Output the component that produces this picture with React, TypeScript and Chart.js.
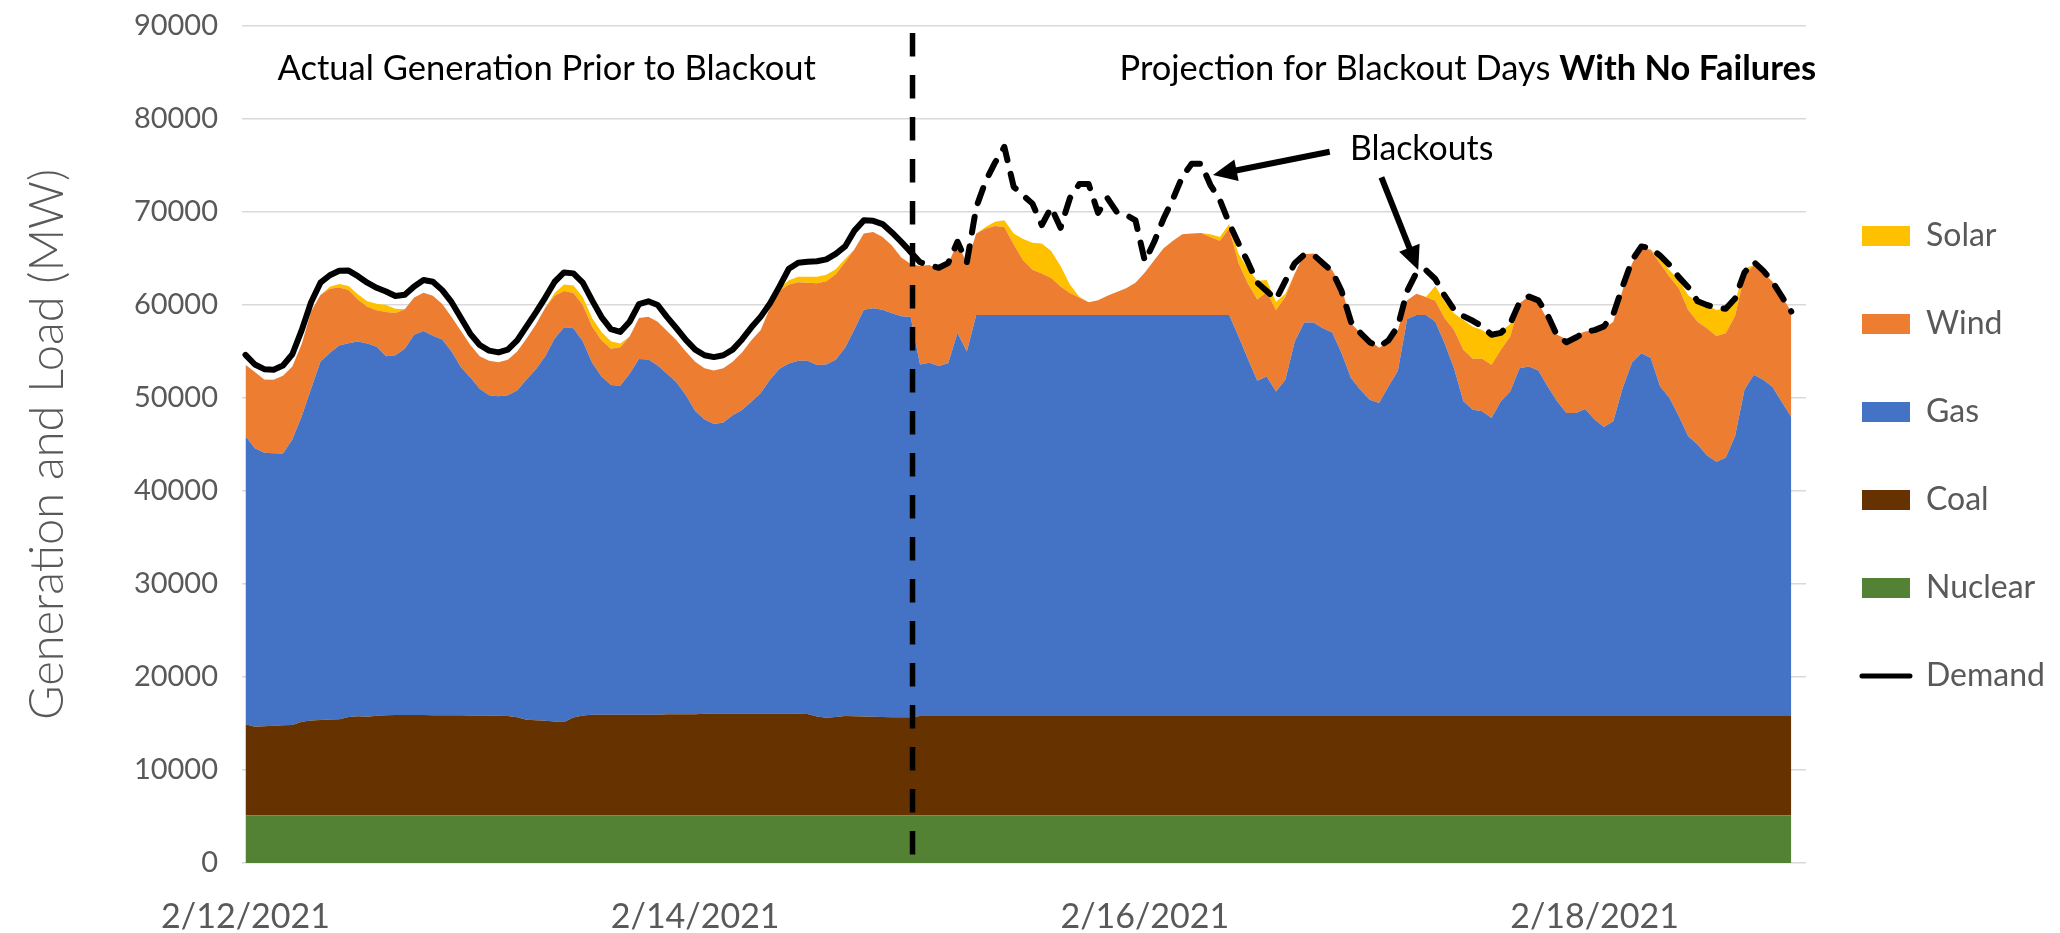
import React, { useEffect, useRef } from 'react';
import { Chart, registerables } from 'chart.js';

Chart.register(...registerables);

// ---------------- data (hourly, hour 0 = 2/12/2021 00:00) ----------------
const dateTicks = ['2/12/2021', '2/14/2021', '2/16/2021', '2/18/2021'];
const dateTickHours = [0, 48, 96, 144];

const nuclear = [
  5100, 5100, 5100, 5100, 5100, 5100, 5100, 5100, 5100, 5100,
  5100, 5100, 5100, 5100, 5100, 5100, 5100, 5100, 5100, 5100,
  5100, 5100, 5100, 5100, 5100, 5100, 5100, 5100, 5100, 5100,
  5100, 5100, 5100, 5100, 5100, 5100, 5100, 5100, 5100, 5100,
  5100, 5100, 5100, 5100, 5100, 5100, 5100, 5100, 5100, 5100,
  5100, 5100, 5100, 5100, 5100, 5100, 5100, 5100, 5100, 5100,
  5100, 5100, 5100, 5100, 5100, 5100, 5100, 5100, 5100, 5100,
  5100, 5100, 5100, 5100, 5100, 5100, 5100, 5100, 5100, 5100,
  5100, 5100, 5100, 5100, 5100, 5100, 5100, 5100, 5100, 5100,
  5100, 5100, 5100, 5100, 5100, 5100, 5100, 5100, 5100, 5100,
  5100, 5100, 5100, 5100, 5100, 5100, 5100, 5100, 5100, 5100,
  5100, 5100, 5100, 5100, 5100, 5100, 5100, 5100, 5100, 5100,
  5100, 5100, 5100, 5100, 5100, 5100, 5100, 5100, 5100, 5100,
  5100, 5100, 5100, 5100, 5100, 5100, 5100, 5100, 5100, 5100,
  5100, 5100, 5100, 5100, 5100, 5100, 5100, 5100, 5100, 5100,
  5100, 5100, 5100, 5100, 5100, 5100, 5100, 5100, 5100, 5100,
  5100, 5100, 5100, 5100, 5100, 5100,
];

const coal = [
  9810, 9560, 9600, 9650, 9700, 9740, 10100, 10230, 10280, 10320,
  10350, 10600, 10680, 10630, 10720, 10780, 10810, 10810, 10810, 10810,
  10800, 10800, 10790, 10780, 10770, 10760, 10750, 10730, 10700, 10580,
  10300, 10250, 10200, 10120, 10060, 10550, 10750, 10850, 10850, 10850,
  10850, 10850, 10850, 10850, 10850, 10900, 10900, 10900, 10900, 10950,
  10950, 10950, 10950, 10950, 10950, 10950, 10950, 10950, 10950, 10940,
  10920, 10650, 10530, 10600, 10700, 10680, 10650, 10630, 10600, 10580,
  10560, 10560, 10700, 10700, 10700, 10700, 10700, 10700, 10700, 10700,
  10700, 10700, 10700, 10700, 10700, 10700, 10700, 10700, 10700, 10700,
  10700, 10700, 10700, 10700, 10700, 10700, 10700, 10700, 10700, 10700,
  10700, 10700, 10700, 10700, 10700, 10700, 10700, 10700, 10700, 10700,
  10700, 10700, 10700, 10700, 10700, 10700, 10700, 10700, 10700, 10700,
  10700, 10700, 10700, 10700, 10700, 10700, 10700, 10700, 10700, 10700,
  10700, 10700, 10700, 10700, 10700, 10700, 10700, 10700, 10700, 10700,
  10700, 10700, 10700, 10700, 10700, 10700, 10700, 10700, 10700, 10700,
  10700, 10700, 10700, 10700, 10700, 10700, 10700, 10700, 10700, 10700,
  10700, 10700, 10700, 10700, 10700, 10700,
];

const gas = [
  30980, 29940, 29410, 29300, 29240, 30700, 32840, 35670, 38520, 39430,
  40190, 40200, 40290, 40120, 39680, 38620, 38690, 39390, 40890, 41290,
  40800, 40400, 39110, 37420, 36330, 35140, 34450, 34370, 34500, 35120,
  36600, 37750, 39200, 41180, 42440, 41850, 40250, 37850, 36350, 35450,
  35370, 36650, 38250, 38200, 37550, 36600, 35700, 34300, 32600, 31650,
  31150, 31320, 32100, 32650, 33550, 34490, 35950, 37100, 37650, 37960,
  37980, 37800, 37970, 38400, 39600, 41620, 43750, 43920, 43800, 43420,
  43140, 43040, 37800, 38000, 37650, 37950, 41200, 39200, 43130, 43130,
  43130, 43130, 43130, 43130, 43130, 43130, 43130, 43130, 43130, 43130,
  43130, 43130, 43130, 43130, 43130, 43130, 43130, 43130, 43130, 43130,
  43130, 43130, 43130, 43130, 43130, 43130, 40810, 38400, 36060, 36520,
  34910, 36160, 40270, 42310, 42310, 41700, 41240, 39020, 36340, 35090,
  34020, 33660, 35450, 37100, 42700, 43130, 43130, 42410, 40090, 37410,
  33840, 32950, 32770, 32060, 33840, 34910, 37410, 37590, 37160, 35450,
  33840, 32590, 32590, 33020, 31880, 31090, 31700, 35270, 38020, 39020,
  38490, 35450, 34200, 32240, 30090, 29200, 28020, 27340, 27770, 30090,
  35090, 36700, 36160, 35380, 33740, 32160,
];

const wind = [
  7680, 8200, 7890, 7910, 8360, 7850, 7760, 8300, 7170, 6900,
  6250, 5700, 4530, 3950, 3940, 4750, 4550, 4250, 4000, 4130,
  4300, 3800, 3700, 3900, 3500, 3500, 3700, 3650, 3800, 4200,
  4400, 4800, 5200, 4600, 3900, 3800, 3900, 3900, 3900, 3900,
  4130, 4000, 4400, 4600, 4700, 4600, 4500, 4700, 5300, 5500,
  5760, 5830, 5750, 6200, 6600, 6780, 7700, 8350, 8500, 8450,
  8400, 8800, 8950, 9200, 9200, 8600, 8200, 8210, 7800, 7300,
  6300, 5700, 10600, 10500, 10350, 10650, 9700, 9500, 8770, 9270,
  9570, 9470, 7570, 5870, 4870, 4470, 3970, 3070, 2370, 1870,
  1370, 1570, 2070, 2470, 2870, 3470, 4570, 5870, 7170, 7970,
  8670, 8770, 8820, 8370, 7970, 9270, 7890, 8100, 8740, 9080,
  8750, 8940, 7330, 7350, 7430, 7400, 6710, 7140, 5900, 6110,
  6380, 5940, 4710, 4400, 2000, 2270, 1920, 2250, 2680, 4110,
  5540, 5460, 5640, 5710, 5540, 5900, 6970, 7570, 7220, 7140,
  7150, 7930, 8400, 8320, 9620, 10560, 10710, 10540, 10640, 11380,
  11600, 13210, 13040, 13750, 13570, 13210, 13680, 13540, 13390, 12930,
  12320, 11790, 11500, 11320, 11350, 11330,
];

const solar = [
  0, 0, 0, 0, 0, 0, 0, 0, 0, 200,
  360, 450, 550, 600, 700, 750, 450, 0, 0, 0,
  0, 0, 0, 0, 0, 0, 0, 0, 0, 0,
  0, 0, 0, 300, 700, 800, 850, 900, 900, 800,
  400, 0, 0, 0, 0, 0, 0, 0, 0, 0,
  0, 0, 0, 0, 0, 0, 100, 300, 450, 600,
  650, 700, 700, 550, 350, 0, 0, 0, 0, 0,
  0, 0, 0, 0, 0, 0, 0, 0, 0, 200,
  450, 700, 1200, 2300, 2900, 3200, 2900, 2200, 900, 100,
  0, 0, 0, 0, 0, 0, 0, 0, 0, 0,
  0, 0, 0, 300, 400, 500, 1000, 1600, 2000, 1300,
  900, 300, 0, 0, 0, 0, 0, 0, 0, 0,
  0, 0, 0, 0, 0, 0, 0, 1570, 1790, 1790,
  3210, 3460, 3100, 3040, 1960, 1360, 0, 0, 0, 0,
  0, 0, 0, 0, 0, 0, 0, 0, 0, 0,
  100, 540, 700, 890, 1600, 2100, 2500, 2790, 2680, 1540,
  700, 0, 0, 0, 0, 0,
];

const demand = [
  54640, 53600, 53100, 53040, 53500, 54700, 57300, 60300, 62400, 63200,
  63680, 63700, 63100, 62400, 61850, 61450, 60960, 61100, 62000, 62680,
  62500, 61600, 60300, 58600, 56900, 55700, 55100, 54900, 55200, 56200,
  57700, 59200, 60800, 62500, 63500, 63400, 62400, 60500, 58700, 57400,
  57100, 58200, 60100, 60400, 60000, 58700, 57500, 56250, 55200, 54600,
  54400, 54600, 55200, 56300, 57600, 58750, 60200, 62000, 63900, 64550,
  64640, 64700, 64900, 65500, 66300, 68000, 69100, 69050, 68700, 67800,
  66790, 65710, 64600, 64300, 64000, 64500, 66800, 64600, 70500, 73300,
  75300, 77000, 72700, 71800, 70900, 68600, 70500, 68300, 71500, 73000,
  73000, 69900, 71500, 70000, 69700, 69100, 64700, 66800, 69300, 71400,
  73800, 75200, 75200, 72900, 71300, 68800, 66600, 64600, 62400, 61500,
  60600, 62600, 64500, 65400, 65400, 64500, 63600, 61500, 58200, 57000,
  56000, 55500, 56200, 57700, 61500, 63500, 63750, 62800, 61000, 59500,
  58800, 58300, 57700, 56800, 57000, 58000, 60300, 60900, 60500, 58900,
  56700, 56000, 56500, 57100, 57300, 57700, 59000, 62000, 64800, 66300,
  66100, 65300, 64300, 63000, 61900, 60400, 60000, 59700, 59600, 60700,
  63500, 64640, 63700, 62500, 60900, 59300,
];

// hour offset of each sample (x category)
const hours = demand.map((_, i) => i);

// start of the projection period (hours) and extent of the divider line (MW)
const dividerHour = 71.2;
const dividerRange = [800, 89250];

const legendOrder = ['Solar', 'Wind', 'Gas', 'Coal', 'Nuclear', 'Demand'];

const colors: Record<string, string> = {
  Nuclear: '#548235',
  Coal: '#663300',
  Gas: '#4472C4',
  Wind: '#ED7D31',
  Solar: '#FFC000',
  Demand: '#000000',
};

const FONT = 'Lato, "Open Sans", "DejaVu Sans", sans-serif';

const toXY = (arr: number[]) => arr.map((v, i) => ({ x: hours[i], y: v }));

// ---------------- annotation plugin ----------------
const annotations = {
  id: 'annotations',
  afterDatasetsDraw(chart: any) {
    const { ctx } = chart;
    const xs = chart.scales.x;
    const ys = chart.scales.y;
    const px = (h: number) => xs.getPixelForValue(h);
    const py = (v: number) => ys.getPixelForValue(v);
    ctx.save();

    const fitText = (
      parts: { text: string; weight: number }[],
      h0: number,
      h1: number,
      v: number,
    ) => {
      const base = 36;
      let total = 0;
      parts.forEach((p) => {
        ctx.font = `${p.weight} ${base}px ${FONT}`;
        total += ctx.measureText(p.text).width;
      });
      const size = (base * (px(h1) - px(h0))) / total;
      let cx = px(h0);
      const cy = py(v);
      ctx.fillStyle = '#000';
      ctx.textBaseline = 'alphabetic';
      ctx.textAlign = 'left';
      parts.forEach((p) => {
        ctx.font = `${p.weight} ${size}px ${FONT}`;
        ctx.fillText(p.text, cx, cy);
        cx += ctx.measureText(p.text).width;
      });
    };

    fitText([{ text: 'Actual Generation Prior to Blackout', weight: 400 }], 3.42, 60.92, 84194);
    fitText(
      [
        { text: 'Projection for Blackout Days ', weight: 400 },
        { text: 'With No Failures', weight: 700 },
      ],
      93.3,
      167.66,
      84194,
    );
    fitText([{ text: 'Blackouts', weight: 400 }], 117.89, 133.2, 75591);

    const arrow = (h0: number, v0: number, h1: number, v1: number) => {
      const x0 = px(h0), y0 = py(v0), x1 = px(h1), y1 = py(v1);
      const dx = x1 - x0, dy = y1 - y0;
      const len = Math.hypot(dx, dy);
      const ux = dx / len, uy = dy / len;
      const headLen = 24, headHalf = 11;
      const bx = x1 - ux * headLen, by = y1 - uy * headLen;
      ctx.strokeStyle = '#000';
      ctx.lineWidth = 6;
      ctx.lineCap = 'butt';
      ctx.beginPath();
      ctx.moveTo(x0, y0);
      ctx.lineTo(bx + ux * 2, by + uy * 2);
      ctx.stroke();
      ctx.fillStyle = '#000';
      ctx.beginPath();
      ctx.moveTo(x1, y1);
      ctx.lineTo(bx - uy * headHalf, by + ux * headHalf);
      ctx.lineTo(bx + uy * headHalf, by - ux * headHalf);
      ctx.closePath();
      ctx.fill();
    };
    arrow(115.73, 76484, 103.27, 73978);
    arrow(121.25, 73731, 125.18, 63763);

    ctx.restore();
  },
};

export default function App() {
  const ref = useRef<HTMLCanvasElement | null>(null);

  useEffect(() => {
    if (!ref.current) return;
    Chart.defaults.font.family = FONT;

    const area = (label: string, data: number[], fill: any) => ({
      label,
      data: toXY(data),
      backgroundColor: colors[label],
      borderColor: colors[label],
      borderWidth: 0,
      pointRadius: 0,
      tension: 0,
      fill,
      stack: 'gen',
    });

    const datasets: any[] = [
      area('Nuclear', nuclear, 'origin'),
      area('Coal', coal, '-1'),
      area('Gas', gas, '-1'),
      area('Wind', wind, '-1'),
      area('Solar', solar, '-1'),
      {
        label: 'Demand',
        data: toXY(demand),
        borderColor: '#000',
        backgroundColor: '#000',
        borderWidth: 6,
        pointRadius: 0,
        tension: 0,
        fill: false,
        stack: 'demand',
        order: -1,
        borderCapStyle: 'round',
        borderJoinStyle: 'round',
        segment: {
          borderDash: (c: any) => (c.p0.parsed.x >= 71 ? [16, 14] : undefined),
        },
      },
      {
        label: 'divider',
        data: [
          { x: dividerHour, y: dividerRange[1] },
          { x: dividerHour, y: dividerRange[0] },
        ],
        borderColor: '#000',
        borderWidth: 5.5,
        borderDash: [23.5, 18.5],
        pointRadius: 0,
        fill: false,
        stack: 'divider',
        order: -2,
      },
    ];

    const chart = new Chart(ref.current, {
      type: 'line',
      data: { datasets },
      plugins: [annotations],
      options: {
        animation: false,
        responsive: false,
        maintainAspectRatio: false,
        devicePixelRatio: 1,
        layout: { padding: { left: 0, top: 26, right: 5, bottom: 0 } },
        plugins: {
          tooltip: { enabled: false },
          legend: {
            position: 'right',
            align: 'start',
            title: {
              display: true,
              text: ' ',
              font: { size: 10, family: FONT },
              padding: { top: 126, bottom: 0 },
            },
            labels: {
              usePointStyle: true,
              pointStyleWidth: 48,
              boxHeight: 20,
              padding: 56,
              color: '#595959',
              font: { size: 32, family: FONT },
              generateLabels: (ch: any) =>
                legendOrder.map((name) => {
                  const idx = ch.data.datasets.findIndex((d: any) => d.label === name);
                  const isLine = name === 'Demand';
                  return {
                    text: name,
                    fillStyle: colors[name],
                    strokeStyle: colors[name],
                    lineWidth: isLine ? 5 : 0,
                    lineCap: 'round',
                    pointStyle: isLine ? 'line' : 'rect',
                    fontColor: '#595959',
                    hidden: false,
                    datasetIndex: idx,
                  };
                }),
            },
          },
        },
        scales: {
          x: {
            type: 'linear',
            min: -0.374,
            max: 166.57,
            grid: { display: false },
            border: { display: false },
            afterFit: (s: any) => {
              s.height = 70;
              s.paddingLeft = 0;
              s.paddingRight = 0;
            },
            afterBuildTicks: (s: any) => {
              s.ticks = dateTickHours.map((v) => ({ value: v }));
            },
            ticks: {
              autoSkip: false,
              maxRotation: 0,
              minRotation: 0,
              padding: 26,
              color: '#595959',
              font: { size: 34, family: FONT },
              callback: (_v: any, i: number) => dateTicks[i],
            },
          },
          y: {
            stacked: true,
            min: 0,
            max: 90000,
            grid: { color: '#d9d9d9', lineWidth: 1.5, drawTicks: false },
            border: { display: false },
            afterFit: (s: any) => {
              s.width = 242;
              s.paddingTop = 0;
              s.paddingBottom = 0;
            },
            ticks: {
              stepSize: 10000,
              padding: 24,
              color: '#595959',
              font: { size: 29, family: FONT },
              callback: (v: any) => String(v),
            },
            title: {
              display: true,
              text: 'Generation and Load (MW)',
              color: '#595959',
              font: { size: 47, family: FONT, weight: '300' as any },
              padding: { top: 20, bottom: 0 },
            },
          },
        },
      } as any,
    });

    return () => chart.destroy();
  }, []);

  return (
    <div
      style={{
        position: 'absolute',
        left: 0,
        top: 0,
        width: 2060,
        height: 933,
        background: '#ffffff',
      }}
    >
      <canvas
        ref={ref}
        width={2060}
        height={933}
        style={{ display: 'block', width: 2060, height: 933 }}
      />
    </div>
  );
}
